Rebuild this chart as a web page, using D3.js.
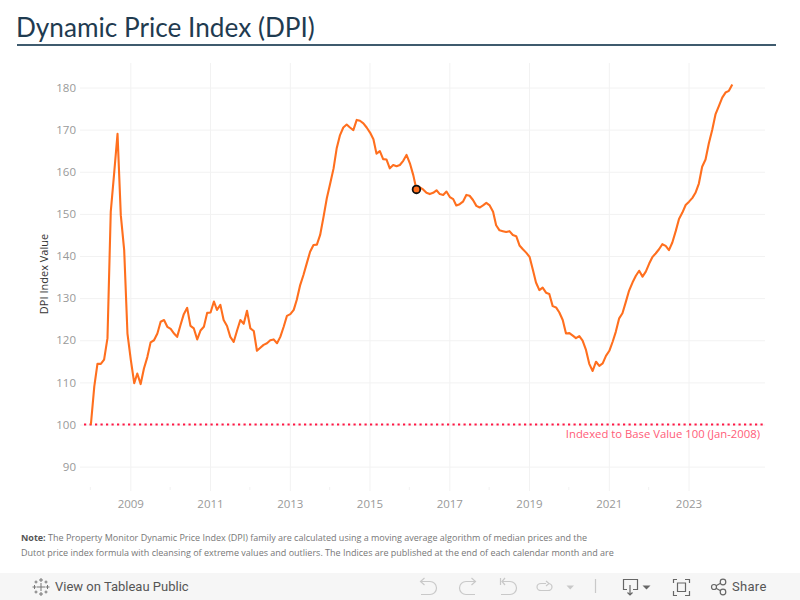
<!DOCTYPE html>
<html><head><meta charset="utf-8">
<script src="https://d3js.org/d3.v7.min.js"></script>
<style>
html,body{margin:0;padding:0;background:#fff;overflow:hidden}
svg{display:block}
.yaxis text,.xaxis text{fill:#999;font:11.5px "Open Sans",sans-serif}
.icon{fill:none;stroke:#c9c9c9;stroke-width:1.2}
.dark{fill:none;stroke:#666;stroke-width:1.2}
.logo{fill:none;stroke:#777;stroke-width:1}
</style></head><body><svg id="c" width="800" height="600"></svg>
<script>
const startYear = 2008;
const dpiValues = [
100,109,114.4,114.4,115.4,120.5,150.5,159.6,169,149.7,141.4,121.6,115.3,109.8,112.1,109.6,113.3,116,119.5,120,
121.6,124.4,124.8,123.2,122.7,121.6,120.8,123.6,126.2,127.7,123.4,122.8,120.2,122.3,123.2,126.5,126.6,129.2,127.2,128.4,
124.8,123.4,120.8,119.6,122.3,124.8,123.9,127,122.8,122.2,117.5,118.2,118.9,119.3,120,120.2,119.3,120.8,123.2,125.8,
126.2,127.2,129.6,133.1,135.5,138.3,141,142.6,142.7,145,149.3,153.7,157.2,160.8,165.5,168.7,170.5,171.2,170.5,169.9,
172.3,172.1,171.5,170.5,169.3,167.7,164.3,164.9,163,162.9,160.8,161.6,161.3,161.6,162.6,164,162,159.2,155.8,156.3,
155.8,155,154.7,155,155.6,154.7,154.5,155.3,154,153.5,152,152.3,152.9,154.5,154.3,153.3,151.9,151.5,152,152.6,
152,150.5,147.3,146.1,145.9,145.7,145.9,145,144.7,142.5,141.6,140.8,139.8,136.7,133.7,131.9,132.5,131.3,131,128.1,
127.8,126.6,124.8,121.6,121.7,121.1,120.5,121,119.9,117.7,114.4,112.7,114.9,113.9,114.5,116.3,117.5,119.7,122,125.2,
126.4,129.1,131.8,133.7,135.3,136.5,135.1,136.3,138.2,139.8,140.6,141.6,142.8,142.4,141.4,143.2,145.9,148.8,150.3,152.1,
152.9,153.8,155,157.2,161.2,162.9,166.7,169.9,173.7,175.6,177.6,178.8,179.2,180.7];
const highlightIndex = 98;
const yTicks = [90,100,110,120,130,140,150,160,170,180];
const majorYears = [2009,2011,2013,2015,2017,2019,2021,2023];
const minorYears = [2008,2010,2012,2014,2016,2018,2020,2022,2024];
const baseValue = 100;
const titleText = "Dynamic Price Index (DPI)";
const yTitle = "DPI Index Value";
const baseLabel = "Indexed to Base Value 100 (Jan-2008)";
const noteLines = [
  ["Note:"," The Property Monitor Dynamic Price Index (DPI) family are calculated using a moving average algorithm of median prices and the"],
  ["","Dutot price index formula with cleansing of extreme values and outliers. The Indices are published at the end of each calendar month and are"]
];

const svg = d3.select("#c");
const dateOf = i => new Date(startYear, i, 6);
const yr = y => new Date(y, 0, 1);
const x = d3.scaleTime().domain([yr(2009), yr(2023)]).range([130.3, 688.5]);
const y = d3.scaleLinear().domain([100, 180]).range([424.5, 87.5]);
const plot = {l:80, r:765, t:63, b:491};

// title
svg.append("text").attr("x",16).attr("y",37).text(titleText)
  .style("font","400 26.2px Lato,sans-serif").attr("fill","#1f3b50");
svg.append("rect").attr("x",17).attr("y",44).attr("width",759).attr("height",2).attr("fill","#3f5b6e");

// grid
const gY = svg.append("g").attr("class","yaxis").attr("transform",`translate(${plot.l},0)`)
  .call(d3.axisLeft(y).tickValues(yTicks).tickSize(0).tickPadding(4).tickFormat(d3.format("d")));
gY.select(".domain").remove();
gY.selectAll(".tick line").attr("x2",plot.r-plot.l).attr("stroke","#f2f2f2");
const gX = svg.append("g").attr("class","xaxis").attr("transform",`translate(0,${plot.t})`)
  .call(d3.axisBottom(x).tickValues(majorYears.map(yr)).tickSize(0).tickFormat(d3.timeFormat("%Y")));
gX.select(".domain").remove();
gX.selectAll(".tick line").attr("y2",plot.b-plot.t).attr("stroke","#f2f2f2");
gX.selectAll(".tick text").attr("y",plot.b-plot.t+17).attr("dy",null);
svg.append("g").selectAll("line").data(minorYears.slice(0,-1)).join("line")
  .attr("x1",d=>x(yr(d))).attr("x2",d=>x(yr(d))).attr("y1",plot.b-4).attr("y2",plot.b-1).attr("stroke","#f2f2f2");

svg.append("text").attr("transform","translate(48,274) rotate(-90)").attr("text-anchor","middle")
  .text(yTitle).style("font","11px 'Open Sans',sans-serif").attr("fill","#333");

// reference line
svg.append("line").attr("x1",84).attr("x2",plot.r).attr("y1",y(baseValue)).attr("y2",y(baseValue))
  .attr("stroke","#ff1744").attr("stroke-width",2.2).attr("stroke-dasharray","2.2 3.3");
svg.append("text").attr("x",760).attr("y",y(baseValue)+13.5).attr("text-anchor","end").text(baseLabel)
  .style("font","11.3px 'Open Sans',sans-serif").attr("fill","#ff5c78");

// series
const line = d3.line().x((d,i)=>x(dateOf(i))).y(d=>y(d));
svg.append("path").datum(dpiValues).attr("d",line).attr("fill","none")
  .attr("stroke","#ff6f1e").attr("stroke-width",2.1).attr("stroke-linejoin","round");
svg.append("circle").attr("cx",x(dateOf(highlightIndex))).attr("cy",y(dpiValues[highlightIndex])).attr("r",3.8)
  .attr("fill","#ff6f1e").attr("stroke","#111").attr("stroke-width",1.8);

// note
noteLines.forEach((l,i)=>{
  const t = svg.append("text").attr("x",21).attr("y",541+i*15.3).style("font","9px 'Open Sans',sans-serif").attr("fill","#777");
  if(l[0]) t.append("tspan").attr("font-weight",700).attr("fill","#555").text(l[0]);
  t.append("tspan").text(l[1]);
});

// footer
svg.append("rect").attr("x",0).attr("y",573).attr("width",800).attr("height",27).attr("fill","#f6f6f6");
const footFont = "13px Roboto,sans-serif";
svg.append("text").attr("x",55).attr("y",591).text("View on Tableau Public").style("font",footFont).attr("fill","#555");
svg.append("text").attr("x",732).attr("y",591).text("Share").style("font",footFont).attr("letter-spacing","0.3").attr("fill","#555");
const icons = svg.append("g");
const p=(d,c="icon")=>icons.append("path").attr("d",d).attr("class",c);
p("M420.5,581.5H430a6.5,6.5 0 0 1 0,13H421M424.5,578L420.5,581.5L424.5,585");
p("M475.5,581.5H466a6.5,6.5 0 0 0 0,13H475M471.5,578L475.5,581.5L471.5,585");
p("M500.5,578V585M502,581.5H510a6.5,6.5 0 0 1 0,13H501M505,578L502,581.5L505,585");
p("M546,583.5H541a4,3.5 0 0 0 0,7H548a4,3.5 0 0 0 0,-7M546,581L549,583.5L546,586");
icons.append("path").attr("d","M566.5,585.5H574L570.2,589.5Z").attr("fill","#c9c9c9");
p("M595.5,579V593");
p("M627,589.5H623.5V579.5H637.5V589.5H633M630,585V595M627.5,592.5L630,595L632.5,592.5","dark");
icons.append("path").attr("d","M642.5,585.5H650.5L646.5,589.5Z").attr("fill","#666");
p("M673.5,583V579.5H677M685,579.5H689.5V583M689.5,591V595.5H685M677,595.5H673.5V591M677.5,583H685.5V591.5H677.5Z","dark");
[[714,587,2.5],[723,582,2.8],[723,592,2.8]].forEach(c=>icons.append("circle").attr("cx",c[0]).attr("cy",c[1]).attr("r",c[2]).attr("class","dark"));
p("M716,585.8L720.6,583.3M716,588.2L720.6,590.7","dark");
[[41,587,4],[41,580,2],[41,594,2],[34.5,587,2],[47.5,587,2],[36,582,1.5],[46,582,1.5],[36,592,1.5],[46,592,1.5]].forEach(c=>
  p(`M${c[0]-c[2]},${c[1]}H${c[0]+c[2]}M${c[0]},${c[1]-c[2]}V${c[1]+c[2]}`,"logo"));
</script></body></html>
